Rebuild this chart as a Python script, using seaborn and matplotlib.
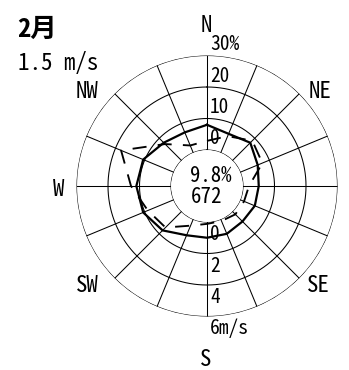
import numpy as np
import pandas as pd
import matplotlib
matplotlib.use("Agg")
import matplotlib.pyplot as plt
import matplotlib.transforms as mtransforms
import seaborn as sns

# ---- data -------------------------------------------------------------
directions = ["N", "NNE", "NE", "ENE", "E", "ESE", "SE", "SSE",
              "S", "SSW", "SW", "WSW", "W", "WNW", "NW", "NNW"]
freq_pct = [2.9, 5.7, 8.9, 7.6, 1.9, 1.3, 1.3, 0.6,
            0.6, 2.2, 7.2, 8.9, 12.7, 18.1, 7.4, 2.5]
speed_ms = [1.6, 1.3, 1.6, 1.2, 1.0, 1.0, 0.9, 1.0,
            1.0, 1.1, 1.7, 2.1, 2.2, 2.1, 1.6, 1.4]
freq_rings = [0, 10, 20, 30]
freq_tick_labels = ["0", "10", "20", "30%"]
speed_ticks = [0, 2, 4, 6]
speed_tick_labels = ["0", "2", "4", "6m/s"]
compass_labels = ["N", "NE", "E", "SE", "S", "SW", "W", "NW"]
month_label = "2月"
mean_speed_label = "1.5 m/s"
calm_label = "9.8%"
count_label = "672"

# ---- layout (pixels) --------------------------------------------------
W_PX, H_PX, DPI = 349, 370, 100
CX, CY = 207, 186          # centre of the rose
R_OUT, R_IN = 130.5, 36.0  # outer ring and calm circle radii

plt.rcParams["font.family"] = ["Noto Sans Mono CJK JP", "Noto Sans CJK JP", "DejaVu Sans"]

fig = plt.figure(figsize=(W_PX / DPI, H_PX / DPI), dpi=DPI)
rect = [(CX - R_OUT) / W_PX, (H_PX - CY - R_OUT) / H_PX,
        2 * R_OUT / W_PX, 2 * R_OUT / H_PX]

ax_f = fig.add_axes(rect, projection="polar")   # frequency (%)
ax_s = fig.add_axes(rect, projection="polar")   # mean speed (m/s)
ax_s.patch.set_alpha(0)

theta = np.deg2rad(np.arange(len(directions)) * 22.5)
theta_closed = np.append(theta, 2 * np.pi)

df_f = pd.DataFrame({"theta": theta_closed, "freq": np.append(freq_pct, freq_pct[0])})
df_s = pd.DataFrame({"theta": theta_closed, "speed": np.append(speed_ms, speed_ms[0])})

# grid: rings and 16 spokes between calm circle and outer ring
ring_t = np.linspace(0, 2 * np.pi, 721)
for f in freq_rings:
    ax_f.plot(ring_t, np.full_like(ring_t, f), color="black", lw=0.75)
for t in theta:
    ax_f.plot([t, t], [freq_rings[0], freq_rings[-1]], color="black", lw=0.75)

# frequency polygon (dashed)
sns.lineplot(data=df_f, x="theta", y="freq", ax=ax_f, sort=False,
             estimator=None, color="black", lw=1.35)
ax_f.lines[-1].set_linestyle((0, (7.5, 6.0)))

# mean wind speed polygon (solid)
sns.lineplot(data=df_s, x="theta", y="speed", ax=ax_s, sort=False,
             estimator=None, color="black", lw=1.6)

k_f = (R_OUT - R_IN) / freq_rings[-1]
k_s = (R_OUT - R_IN) / speed_ticks[-1]
for ax, top, k in ((ax_f, freq_rings[-1], k_f), (ax_s, speed_ticks[-1], k_s)):
    ax.set_theta_zero_location("N")
    ax.set_theta_direction(-1)
    ax.set_ylim(0, top)
    ax.set_rorigin(-R_IN / k)
    ax.axis("off")

shift = mtransforms.ScaledTranslation(3 / DPI, 0, fig.dpi_scale_trans)

# ring labels: % upward, m/s downward
for f, lab in zip(freq_rings, freq_tick_labels):
    ax_f.text(0, f + 5.5 / k_f, lab, transform=ax_f.transData + shift,
              ha="left", va="baseline", fontsize=14)
for v, lab in zip(speed_ticks, speed_tick_labels):
    ax_s.text(np.pi, v + 18.0 / k_s, lab, transform=ax_s.transData + shift,
              ha="left", va="baseline", fontsize=14)

def px_text(x, y, s, **kw):
    fig.text(x / W_PX, 1 - y / H_PX, s, **kw)

compass_pos = {"N": (206, 32), "NE": (320, 98), "E": (355, 195.5), "SE": (318, 292),
               "S": (206, 366), "SW": (87, 292), "W": (59, 195.5), "NW": (87, 98)}
for lab in compass_labels:
    x, y = compass_pos[lab]
    px_text(x, y, lab, ha="center", va="baseline", fontsize=16.5)

px_text(17, 37, month_label, ha="left", va="baseline", fontsize=19, fontweight="bold")
px_text(18, 70, mean_speed_label, ha="left", va="baseline", fontsize=16.5)
px_text(190, 182, calm_label, ha="left", va="baseline", fontsize=15)
px_text(191, 203, count_label, ha="left", va="baseline", fontsize=15)

fig.savefig("out.png", dpi=DPI)
